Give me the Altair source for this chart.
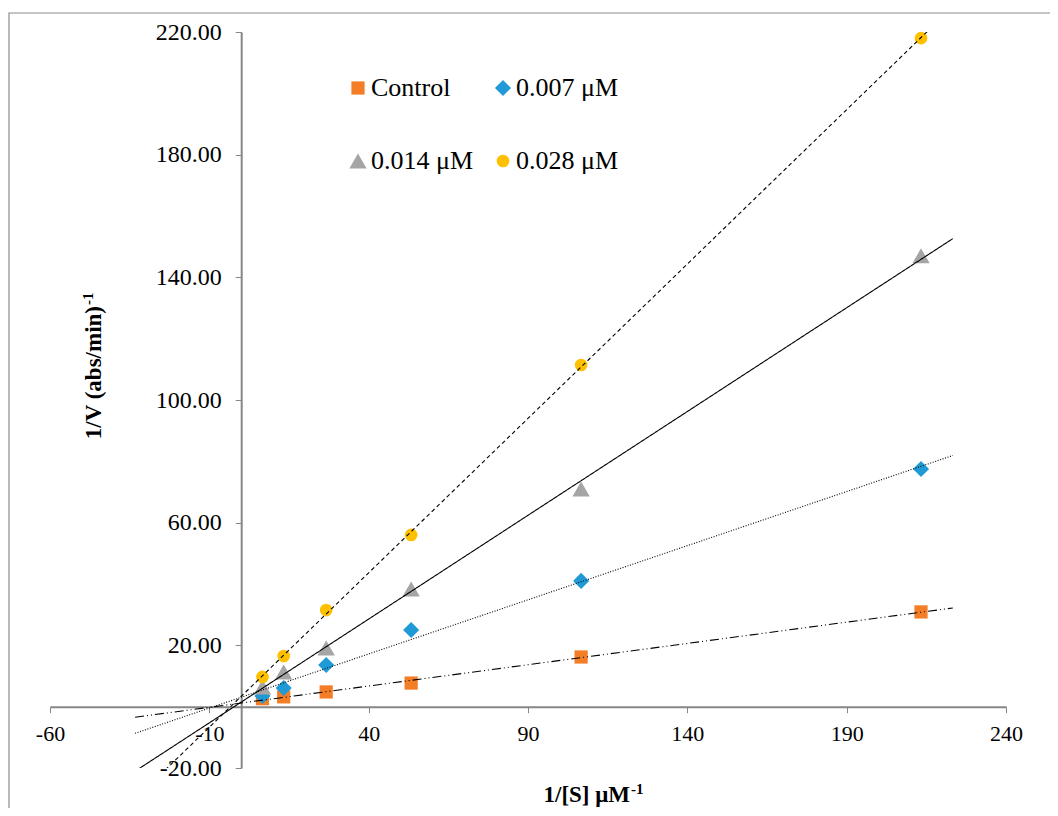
import altair as alt
import pandas as pd

# ---- data ----
inv_s = [6.67, 13.33, 26.67, 53.33, 106.67, 213.33]
control = [2.6, 3.2, 4.8, 7.7, 16.2, 30.9]
c007 = [3.5, 6.1, 13.6, 25.0, 41.0, 77.5]
c014 = [6.4, 11.3, 19.1, 38.4, 71.0, 147.0]
c028 = [9.7, 16.5, 31.5, 56.0, 111.4, 218.0]

series_names = ["Control", "0.007 μM", "0.014 μM", "0.028 μM"]
series_vals = [control, c007, c014, c028]
colors = ["#F47E28", "#1F9AD6", "#A5A5A5", "#FFC000"]
shapes = ["square", "diamond", "triangle-up", "circle"]
sizes = [175, 260, 300, 160]
dashes = [[9, 3, 1, 3, 1, 3], [1, 1.6], [1, 0], [4, 3]]

x_ticks = [-60, -10, 40, 90, 140, 190, 240]
y_ticks = [-20, 20, 60, 100, 140, 180, 220]

rows = []
for name, vals in zip(series_names, series_vals):
    for xv, yv in zip(inv_s, vals):
        rows.append({"x": xv, "y": yv, "series": name})
df = pd.DataFrame(rows)

FONT = "Liberation Serif"
W, H = 956, 736

xs = alt.Scale(domain=[-60, 240], nice=False, zero=False)
ys = alt.Scale(domain=[-20, 220], nice=False, zero=False)

label_expr = "replace(format(datum.value, '{fmt}'), '\u2212', '-')"

x_axis = alt.Axis(
    values=x_ticks, orient="bottom", offset=-61.3, grid=False,
    labelExpr=label_expr.format(fmt="d"), labelFlush=False, labelOverlap=False,
    labelBound=False, labelFont=FONT, labelFontSize=22, labelColor="black",
    labelPadding=11, tickSize=6, tickColor="#868686", domainColor="#868686",
    domainWidth=2, title=None,
)
y_axis = alt.Axis(
    values=y_ticks, orient="left", offset=-191.2, grid=False,
    labelExpr=label_expr.format(fmt=".2f"), labelOverlap=False, labelBound=False,
    labelFont=FONT, labelFontSize=24, labelColor="black", labelPadding=14,
    tickSize=6, tickColor="#868686", domainColor="#868686", domainWidth=2,
    title=None,
)

legend = alt.Legend(
    title=None, orient="none", legendX=295, legendY=43, columns=2,
    direction="horizontal", labelFont=FONT, labelFontSize=26,
    labelColor="black", symbolStrokeWidth=0,
    labelOffset=0, columnPadding=16, rowPadding=47, padding=0,
)

points = alt.Chart(df).mark_point(filled=True, opacity=1, strokeWidth=0).encode(
    x=alt.X("x:Q", scale=xs, axis=x_axis),
    y=alt.Y("y:Q", scale=ys, axis=y_axis),
    color=alt.Color("series:N", scale=alt.Scale(domain=series_names, range=colors),
                    legend=legend),
    shape=alt.Shape("series:N", scale=alt.Scale(domain=series_names, range=shapes),
                    legend=legend),
    size=alt.Size("series:N",
                  scale=alt.Scale(type="ordinal", domain=series_names, range=sizes),
                  legend=legend),
)

lines = alt.Chart(df).transform_regression(
    "x", "y", groupby=["series"], extent=[-33.3, 223.3]
).mark_line(clip=True, strokeWidth=1.1).encode(
    x=alt.X("x:Q", scale=xs),
    y=alt.Y("y:Q", scale=ys),
    detail="series:N",
    color=alt.value("black"),
    strokeDash=alt.StrokeDash(
        "series:N", scale=alt.Scale(domain=series_names, range=dashes), legend=None
    ),
)

title_df = pd.DataFrame({"k": [0]})
base_t = alt.Chart(title_df)
x_title = base_t.mark_text(font=FONT, fontSize=23, fontWeight="bold", align="right",
                           baseline="alphabetic", color="black").encode(
    x=alt.value(580), y=alt.value(770), text=alt.value("1/[S] μM"))
x_sup = base_t.mark_text(font=FONT, fontSize=15, fontWeight="bold", align="left",
                         baseline="alphabetic", color="black").encode(
    x=alt.value(581), y=alt.value(762), text=alt.value("-1"))
y_title = base_t.mark_text(font=FONT, fontSize=23, fontWeight="bold", align="right",
                           baseline="alphabetic", angle=270, color="black").encode(
    x=alt.value(51), y=alt.value(274), text=alt.value("1/V (abs/min)"))
y_sup = base_t.mark_text(font=FONT, fontSize=15, fontWeight="bold", align="left",
                         baseline="alphabetic", angle=270, color="black").encode(
    x=alt.value(43), y=alt.value(273), text=alt.value("-1"))

border = base_t.mark_rect(fill=None, stroke="#8C8C8C", strokeWidth=1.2, clip=False).encode(
    x=alt.value(-41), x2=alt.value(1100), y=alt.value(-19), y2=alt.value(900))

chart = alt.layer(border, points, lines, x_title, x_sup, y_title, y_sup).properties(
    width=W, height=H,
    autosize=alt.AutoSizeParams(type="none"),
    padding={"left": 42, "top": 24, "right": 44, "bottom": 40},
    background="white",
).configure_view(stroke=None)

chart.save("out.html", embed_options={"renderer": "svg", "actions": False})
